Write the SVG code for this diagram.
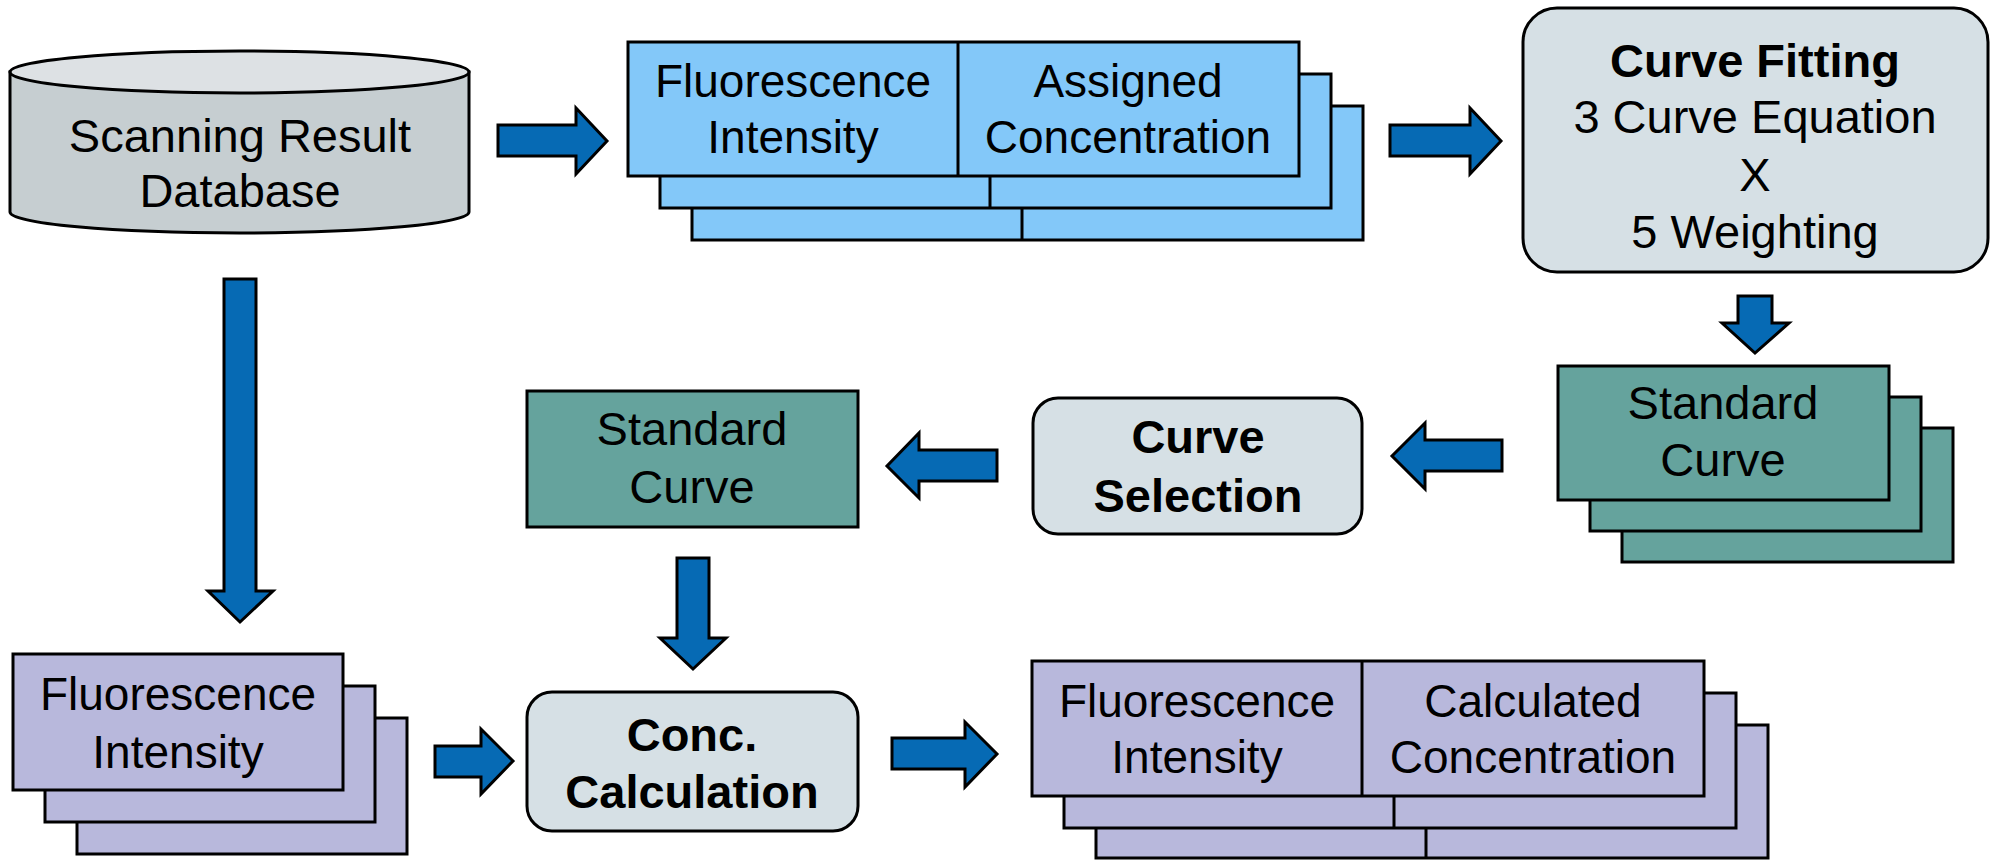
<svg xmlns="http://www.w3.org/2000/svg" width="1999" height="860" viewBox="0 0 1999 860">
  <style>
    .ln { stroke: #000; stroke-width: 3; stroke-linejoin: miter; }
    .blue { fill: #83c8f9; }
    .teal { fill: #65a39d; }
    .purple { fill: #b8b8dc; }
    .soft { fill: #d6e0e5; }
    .arrow { fill: #066ab4; stroke: #000; stroke-width: 3; stroke-linejoin: miter; }
    text { font-family: "Liberation Sans", Arial, sans-serif; font-size: 47px; fill: #000; text-anchor: middle; }
    .b { font-weight: bold; }
    .s46 { font-size: 46px; }
  </style>
  <rect width="1999" height="860" fill="#fff"/>

  <!-- Database cylinder -->
  <g id="database">
    <path class="ln" fill="#c6ced1" d="M10,72 L10,212 A229.5,21 0 0 0 469,212 L469,72 Z"/>
    <ellipse class="ln" fill="#dde1e4" cx="239.5" cy="72" rx="229.5" ry="21"/>
    <text x="240" y="152">Scanning Result</text>
    <text x="240" y="207">Database</text>
  </g>

  <!-- Input table: intensity / assigned concentration -->
  <g id="input-table">
    <rect class="ln blue" x="692" y="106" width="671" height="134"/>
    <line class="ln" x1="1022" y1="106" x2="1022" y2="240"/>
    <rect class="ln blue" x="660" y="74" width="671" height="134"/>
    <line class="ln" x1="990" y1="74" x2="990" y2="208"/>
    <rect class="ln blue" x="628" y="42" width="671" height="134"/>
    <line class="ln" x1="958" y1="42" x2="958" y2="176"/>
    <text class="s46" x="793" y="97">Fluorescence</text>
    <text class="s46" x="793" y="153">Intensity</text>
    <text class="s46" x="1128" y="97">Assigned</text>
    <text class="s46" x="1128" y="153">Concentration</text>
  </g>

  <!-- Curve fitting step -->
  <g id="curve-fitting">
    <rect class="ln soft" x="1523" y="8" width="465" height="264" rx="34" ry="34"/>
    <text class="b" x="1755" y="77">Curve Fitting</text>
    <text x="1755" y="133">3 Curve Equation</text>
    <text x="1755" y="191">X</text>
    <text x="1755" y="248">5 Weighting</text>
  </g>

  <!-- Set of fitted standard curves -->
  <g id="standard-curves">
    <rect class="ln teal" x="1622" y="428" width="331" height="134"/>
    <rect class="ln teal" x="1590" y="397" width="331" height="134"/>
    <rect class="ln teal" x="1558" y="366" width="331" height="134"/>
    <text x="1723" y="419">Standard</text>
    <text x="1723" y="476">Curve</text>
  </g>

  <!-- Curve selection step -->
  <g id="curve-selection">
    <rect class="ln soft" x="1033" y="398" width="329" height="136" rx="25" ry="25"/>
    <text class="b" x="1198" y="453">Curve</text>
    <text class="b" x="1198" y="512">Selection</text>
  </g>

  <!-- Selected standard curve -->
  <g id="standard-curve">
    <rect class="ln teal" x="527" y="391" width="331" height="136"/>
    <text x="692" y="445">Standard</text>
    <text x="692" y="503">Curve</text>
  </g>

  <!-- Sample intensities -->
  <g id="sample-intensity">
    <rect class="ln purple" x="77" y="718" width="330" height="136"/>
    <rect class="ln purple" x="45" y="686" width="330" height="136"/>
    <rect class="ln purple" x="13" y="654" width="330" height="136"/>
    <text class="s46" x="178" y="710">Fluorescence</text>
    <text class="s46" x="178" y="768">Intensity</text>
  </g>

  <!-- Concentration calculation step -->
  <g id="conc-calculation">
    <rect class="ln soft" x="527" y="692" width="331" height="139" rx="25" ry="25"/>
    <text class="b" x="692" y="751">Conc.</text>
    <text class="b" x="692" y="808">Calculation</text>
  </g>

  <!-- Output table: intensity / calculated concentration -->
  <g id="output-table">
    <rect class="ln purple" x="1096" y="725" width="672" height="133"/>
    <line class="ln" x1="1426" y1="725" x2="1426" y2="858"/>
    <rect class="ln purple" x="1064" y="693" width="672" height="135"/>
    <line class="ln" x1="1394" y1="693" x2="1394" y2="828"/>
    <rect class="ln purple" x="1032" y="661" width="672" height="135"/>
    <line class="ln" x1="1362" y1="661" x2="1362" y2="796"/>
    <text class="s46" x="1197" y="717">Fluorescence</text>
    <text class="s46" x="1197" y="773">Intensity</text>
    <text class="s46" x="1533" y="717">Calculated</text>
    <text class="s46" x="1533" y="773">Concentration</text>
  </g>

  <!-- Block arrows -->
  <g id="connectors">
    <polygon class="arrow" points="498,125 576,125 576,108 607,141 576,174 576,156 498,156"/>
    <polygon class="arrow" points="1390,125 1470,125 1470,108 1501,141 1470,174 1470,156 1390,156"/>
    <polygon class="arrow" points="1738,296 1772,296 1772,323 1789,323 1755,353 1722,323 1738,323"/>
    <polygon class="arrow" points="1502,440 1425,440 1425,423 1392,456 1425,489 1425,471 1502,471"/>
    <polygon class="arrow" points="997,450 919,450 919,433 887,466 919,498 919,481 997,481"/>
    <polygon class="arrow" points="224,279 256,279 256,591 273,591 240,622 208,591 224,591"/>
    <polygon class="arrow" points="677,558 709,558 709,638 726,638 693,669 660,638 677,638"/>
    <polygon class="arrow" points="435,746 481,746 481,729 513,761 481,794 481,777 435,777"/>
    <polygon class="arrow" points="892,738 965,738 965,722 997,754 965,787 965,769 892,769"/>
  </g>
</svg>
